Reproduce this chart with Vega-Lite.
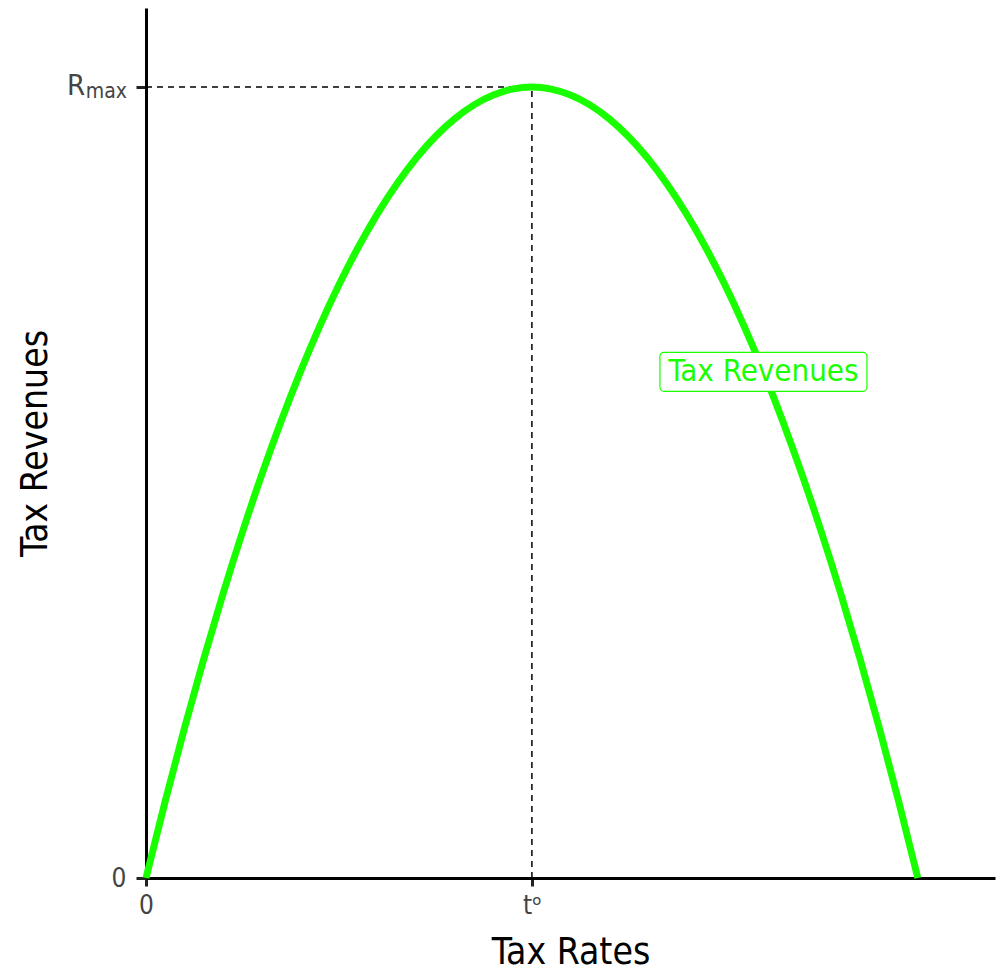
{
  "$schema": "https://vega.github.io/schema/vega-lite/v6.json",
  "autosize": {"type": "none"},
  "padding": {"left": 146, "top": 8, "right": 4, "bottom": 93},
  "width": 849,
  "height": 870,
  "background": "white",
  "config": {
    "view": {"stroke": null},
    "font": "DejaVu Sans Condensed, Liberation Sans Narrow, Roboto",
    "axis": {"grid": false}
  },
  "datasets": {
    "curve": [
      {"t": 0, "r": 0}, {"t": 0.025, "r": 0.0975}, {"t": 0.05, "r": 0.19}, {"t": 0.075, "r": 0.2775},
      {"t": 0.1, "r": 0.36}, {"t": 0.125, "r": 0.4375}, {"t": 0.15, "r": 0.51}, {"t": 0.175, "r": 0.5775},
      {"t": 0.2, "r": 0.64}, {"t": 0.225, "r": 0.6975}, {"t": 0.25, "r": 0.75}, {"t": 0.275, "r": 0.7975},
      {"t": 0.3, "r": 0.84}, {"t": 0.325, "r": 0.8775}, {"t": 0.35, "r": 0.91}, {"t": 0.375, "r": 0.9375},
      {"t": 0.4, "r": 0.96}, {"t": 0.425, "r": 0.9775}, {"t": 0.45, "r": 0.99}, {"t": 0.475, "r": 0.9975},
      {"t": 0.5, "r": 1}, {"t": 0.525, "r": 0.9975}, {"t": 0.55, "r": 0.99}, {"t": 0.575, "r": 0.9775},
      {"t": 0.6, "r": 0.96}, {"t": 0.625, "r": 0.9375}, {"t": 0.65, "r": 0.91}, {"t": 0.675, "r": 0.8775},
      {"t": 0.7, "r": 0.84}, {"t": 0.725, "r": 0.7975}, {"t": 0.75, "r": 0.75}, {"t": 0.775, "r": 0.6975},
      {"t": 0.8, "r": 0.64}, {"t": 0.825, "r": 0.5775}, {"t": 0.85, "r": 0.51}, {"t": 0.875, "r": 0.4375},
      {"t": 0.9, "r": 0.36}, {"t": 0.925, "r": 0.2775}, {"t": 0.95, "r": 0.19}, {"t": 0.975, "r": 0.0975},
      {"t": 1.0, "r": 0}
    ],
    "hline": [{"t": 0, "t2": 0.5, "r": 1}],
    "vline": [{"t": 0.5, "r": 0, "r2": 1}],
    "label": [{"t": 0.8, "r": 0.64, "text": "Tax Revenues"}],
    "rmax": [{"t": 0, "r": 1, "main": "R", "sub": "max"}]
  },
  "layer": [
    {
      "data": {"name": "hline"},
      "mark": {"type": "rule", "stroke": "black", "strokeWidth": 1.5, "strokeDash": [6, 5]},
      "encoding": {
        "x": {"field": "t", "type": "quantitative", "scale": {"domain": [0, 1.1], "nice": false, "zero": true},
          "axis": {
            "title": "Tax Rates", "titleFontSize": 37, "titleFontWeight": "normal", "titleColor": "black", "titlePadding": 16,
            "values": [0, 0.5],
            "labelExpr": "datum.value == 0 ? '0' : 'tᵒ'",
            "labelFontSize": 26, "labelColor": "#444444", "labelPadding": 6, "labelFlush": false,
            "domainColor": "black", "domainWidth": 3,
            "tickColor": "#222222", "tickWidth": 3, "tickSize": 8
          }},
        "x2": {"field": "t2"},
        "y": {"field": "r", "type": "quantitative", "scale": {"domain": [0, 1.1], "nice": false},
          "axis": {
            "title": "Tax Revenues", "titleFontSize": 37, "titleFontWeight": "normal", "titleColor": "black", "titlePadding": 57,
            "values": [0, 1],
            "labelExpr": "datum.value == 0 ? '0' : ''",
            "labelFontSize": 26, "labelColor": "#444444", "labelPadding": 10, "labelFlush": false,
            "domainColor": "black", "domainWidth": 3,
            "tickColor": "#222222", "tickWidth": 3, "tickSize": 10
          }}
      }
    },
    {
      "data": {"name": "vline"},
      "mark": {"type": "rule", "stroke": "black", "strokeWidth": 1.5, "strokeDash": [6, 5]},
      "encoding": {
        "x": {"field": "t", "type": "quantitative"},
        "y": {"field": "r", "type": "quantitative"},
        "y2": {"field": "r2"}
      }
    },
    {
      "data": {"name": "curve"},
      "mark": {"type": "line", "stroke": "#1aff00", "strokeWidth": 7, "interpolate": "monotone"},
      "encoding": {
        "x": {"field": "t", "type": "quantitative"},
        "y": {"field": "r", "type": "quantitative"}
      }
    },
    {
      "data": {"name": "label"},
      "mark": {"type": "rect", "width": 207, "height": 39, "fill": "white", "stroke": "#1aff00", "strokeWidth": 1.2, "cornerRadius": 4},
      "encoding": {
        "x": {"field": "t", "type": "quantitative"},
        "y": {"field": "r", "type": "quantitative"}
      }
    },
    {
      "data": {"name": "label"},
      "mark": {"type": "text", "fontSize": 31, "color": "#1aff00", "align": "center", "baseline": "middle"},
      "encoding": {
        "x": {"field": "t", "type": "quantitative"},
        "y": {"field": "r", "type": "quantitative"},
        "text": {"field": "text"}
      }
    },
    {
      "data": {"name": "rmax"},
      "mark": {"type": "text", "fontSize": 29, "color": "#444444", "align": "right", "baseline": "alphabetic", "dx": -61, "dy": 8, "clip": false},
      "encoding": {
        "x": {"field": "t", "type": "quantitative"},
        "y": {"field": "r", "type": "quantitative"},
        "text": {"field": "main"}
      }
    },
    {
      "data": {"name": "rmax"},
      "mark": {"type": "text", "fontSize": 21, "color": "#444444", "align": "right", "baseline": "alphabetic", "dx": -19, "dy": 11, "clip": false},
      "encoding": {
        "x": {"field": "t", "type": "quantitative"},
        "y": {"field": "r", "type": "quantitative"},
        "text": {"field": "sub"}
      }
    }
  ]
}
